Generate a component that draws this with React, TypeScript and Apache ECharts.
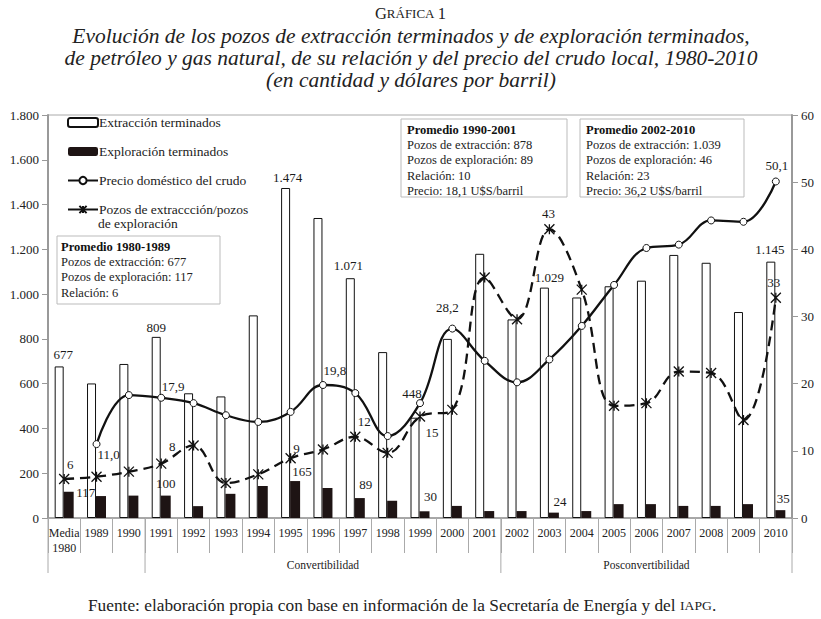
import React, { useEffect, useRef } from "react";
import * as echarts from "echarts";

const categories = ["Media\n1980", "1989", "1990", "1991", "1992", "1993", "1994", "1995", "1996", "1997", "1998", "1999", "2000", "2001", "2002", "2003", "2004", "2005", "2006", "2007", "2008", "2009", "2010"];
const extraccion = [677, 601, 688, 809, 557, 543, 905, 1474, 1340, 1071, 741, 448, 800, 1180, 887, 1029, 985, 1035, 1060, 1175, 1140, 920, 1145];
const exploracion = [117, 98, 100, 100, 53, 108, 143, 165, 134, 89, 77, 30, 54, 31, 31, 24, 31, 62, 62, 54, 54, 62, 35];
const precio = [null, 11.0, 18.3, 17.9, 17.1, 15.3, 14.3, 15.8, 19.8, 18.6, 12.2, 17.1, 28.2, 23.4, 20.2, 23.6, 28.6, 34.7, 40.2, 40.7, 44.3, 44.1, 50.1];
const relacion = [5.8, 6.15, 6.9, 8.1, 10.8, 5.2, 6.5, 8.9, 10.2, 12.1, 9.7, 15.1, 16.1, 35.8, 29.6, 43, 34, 16.7, 17.1, 21.8, 21.6, 14.6, 32.8];
const leftTicks = { min: 0, max: 1800, interval: 200 };
const rightTicks = { min: 0, max: 60, interval: 10 };
const groups = [
  { name: "", from: 0, to: 3 },
  { name: "Convertibilidad", from: 3, to: 14 },
  { name: "Posconvertibilidad", from: 14, to: 23 },
];
const boxes = [
  { title: "Promedio 1980-1989", lines: ["Pozos de extracción: 677", "Pozos de exploración: 117", "Relación: 6"] },
  { title: "Promedio 1990-2001", lines: ["Pozos de extracción: 878", "Pozos de exploración: 89", "Relación: 10", "Precio: 18,1 U$S/barril"] },
  { title: "Promedio 2002-2010", lines: ["Pozos de extracción: 1.039", "Pozos de exploración: 46", "Relación: 23", "Precio: 36,2 U$S/barril"] },
];

// label placement (index -> offset)
const extLabelOff: Record<number, number[]> = { 0: [4, -2], 3: [0, 0], 7: [2, -1], 9: [-2, -3], 11: [-3, -15], 15: [5, -1], 22: [-1, -3] };
const expLabelOff: Record<number, number[]> = { 0: [17, 10], 3: [0, -3], 7: [7, 0], 9: [6, -4], 11: [6, -5], 15: [6, -2], 22: [3, -2] };
const priceLabelOff: Record<number, number[]> = { 1: [12, 10], 3: [12, -11], 8: [12, -15], 12: [-5, -21], 22: [1, -16] };
const ratioLabelOff: Record<number, number[]> = { 0: [6, -15], 3: [11, -17], 7: [6, -10], 9: [9, -15], 11: [12, 16], 15: [-1, -16], 22: [-2, -15] };

const FONT = "Liberation Serif";
const fmtInt = (v: number) => String(Math.round(v)).replace(/\B(?=(\d{3})+(?!\d))/g, ".");
const fmtDec = (v: number) => v.toFixed(1).replace(".", ",");

const GRID = { left: 48, right: 29, top: 115, bottom: 101 };
const STAR = "path://M0,0L10,10M10,0L0,10M5,0L5,10";

export default function App() {
  const ref = useRef<HTMLDivElement>(null);
  useEffect(() => {
    document.body.style.margin = "0";
    const chart = echarts.init(ref.current!, null, { renderer: "svg" });
    const txt = { fontFamily: FONT, fontSize: 13, color: "#1a1a1a", textBorderWidth: 0, textBorderColor: "transparent" };
    const mkLabel = (text: string, position: string, offset: number[], distance = 3) => ({
      show: true,
      position,
      distance,
      offset,
      formatter: text,
      ...txt,
    });

    const extData = extraccion.map((v, i) => (extLabelOff[i] ? { value: v, label: mkLabel(fmtInt(v), "top", extLabelOff[i]) } : v));
    const expData = exploracion.map((v, i) => (expLabelOff[i] ? { value: v, label: mkLabel(fmtInt(v), "top", expLabelOff[i]) } : v));
    const priceData = precio.map((v, i) =>
      v != null && priceLabelOff[i] ? { value: v, label: mkLabel(fmtDec(v), "inside", priceLabelOff[i]) } : v
    );
    const ratioData = relacion.map((v, i) =>
      ratioLabelOff[i] ? { value: v, label: mkLabel(String(Math.round(v)), "inside", ratioLabelOff[i]) } : v
    );

    const ratioName = "Pozos de extraccción/pozos\nde exploración";

    chart.setOption({
      animation: false,
      backgroundColor: "#fff",
      textStyle: { fontFamily: FONT },
      grid: { ...GRID, show: true, borderColor: "#aaa", borderWidth: 1 },
      legend: {
        orient: "vertical",
        left: 62,
        top: 110,
        itemWidth: 30,
        itemHeight: 9,
        itemGap: 14,
        formatter: (n: string) => n.split("\n")[0],
        textStyle: { fontFamily: FONT, fontSize: 13.5, color: "#222", lineHeight: 15, padding: [0, 0, 0, -4] },
        data: [
          { name: "Extracción terminados" },
          { name: "Exploración terminados" },
          { name: "Precio doméstico del crudo" },
          { name: ratioName, lineStyle: { type: "solid" } },
        ],
      },
      xAxis: {
        type: "category",
        data: categories,
        axisLine: { lineStyle: { color: "#999", width: 1.5 } },
        axisTick: { show: true, interval: 0, length: 35, lineStyle: { color: "#aaa" } },
        axisLabel: { interval: 0, margin: 7, fontFamily: FONT, fontSize: 12, color: "#222", lineHeight: 15, verticalAlign: "top" },
      },
      yAxis: [
        {
          type: "value",
          ...leftTicks,
          axisLine: { show: true, lineStyle: { color: "#999", width: 2 } },
          axisTick: { show: true, length: 6, lineStyle: { color: "#999" } },
          splitLine: { show: false },
          axisLabel: { margin: 9, fontFamily: FONT, fontSize: 13, color: "#222", formatter: (v: number) => fmtInt(v) },
        },
        {
          type: "value",
          ...rightTicks,
          position: "right",
          axisLine: { show: true, lineStyle: { color: "#999", width: 2 } },
          axisTick: { show: true, length: 6, lineStyle: { color: "#999" } },
          splitLine: { show: false },
          axisLabel: { margin: 9, fontFamily: FONT, fontSize: 13, color: "#222" },
        },
      ],
      series: [
        {
          name: "Extracción terminados",
          type: "bar",
          data: extData,
          barWidth: 9,
          barGap: "0%",
          itemStyle: { color: "#fff", borderColor: "#111", borderWidth: 1 },
        },
        {
          name: "Exploración terminados",
          type: "bar",
          data: expData,
          barWidth: 10,
          barGap: "0%",
          itemStyle: { color: "#1e1414" },
        },
        {
          name: "Precio doméstico del crudo",
          type: "line",
          yAxisIndex: 1,
          data: priceData,
          smooth: 0.4,
          symbol: "circle",
          symbolSize: 7,
          showAllSymbol: true,
          lineStyle: { color: "#111", width: 2.3 },
          itemStyle: { color: "#fff", borderColor: "#111", borderWidth: 1 },
          z: 4,
        },
        {
          name: ratioName,
          type: "line",
          yAxisIndex: 1,
          data: ratioData,
          smooth: 0.4,
          symbol: STAR,
          symbolSize: 10,
          showAllSymbol: true,
          lineStyle: { color: "#111", width: 2.3, type: [10, 6] },
          itemStyle: { color: "none", borderColor: "#111", borderWidth: 1.3 },
          z: 3,
        },
      ],
    });

    // decorations: titles, boxes, group separators
    const c0 = chart.convertToPixel({ xAxisIndex: 0 }, 0) as number;
    const c1 = chart.convertToPixel({ xAxisIndex: 0 }, 1) as number;
    const step = c1 - c0;
    const edge = (i: number) => c0 - step / 2 + i * step;
    const axisY = 619 - GRID.bottom;

    const graphics: any[] = [];
    graphics.push({
      type: "text", x: 410.5, y: 13,
      style: { text: "{a|G}{b|RÁFICA} {a|1}", rich: { a: { fontSize: 16.5, fontFamily: FONT, fill: "#222" }, b: { fontSize: 13, fontFamily: FONT, fill: "#222" } }, align: "center", verticalAlign: "middle" },
    });
    const titleLines = [
      "Evolución de los pozos de extracción terminados y de exploración terminados,",
      "de petróleo y gas natural, de su relación y del precio del crudo local, 1980-2010",
      "(en cantidad y dólares por barril)",
    ];
    titleLines.forEach((t, k) => {
      graphics.push({
        type: "text", x: 411, y: 36 + k * 22, scaleX: 1.075,
        style: { text: t, font: `italic 20px "${FONT}"`, fill: "#222", align: "center", verticalAlign: "middle" },
      });
    });
    graphics.push({
      type: "text", x: 402, y: 606, scaleX: 1.05,
      style: {
        text: "Fuente: elaboración propia con base en información de la Secretaría de Energía y del {s|IAPG}.",
        rich: { s: { fontSize: 13, fontFamily: FONT, fill: "#222" } },
        font: `16.5px "${FONT}"`, fill: "#222", align: "center", verticalAlign: "middle",
      },
    });
    graphics.push({
      type: "text", x: 98, y: 223,
      style: { text: "de exploración", font: `13.5px "${FONT}"`, fill: "#222", verticalAlign: "middle" },
    });

    const boxPos = [
      { x: 57, y: 236, w: 163, h: 68, pad: 4 },
      { x: 401, y: 119, w: 166, h: 78, pad: 6 },
      { x: 580, y: 119, w: 164, h: 78, pad: 6 },
    ];
    boxes.forEach((b, k) => {
      const p = boxPos[k];
      graphics.push({ type: "rect", shape: { x: p.x, y: p.y, width: p.w, height: p.h }, style: { fill: "#fff", stroke: "#bbb", lineWidth: 1 }, z: 10 });
      graphics.push({
        type: "text", x: p.x + p.pad, y: p.y + 11, z: 11,
        style: { text: b.title, font: `bold 12.5px "${FONT}"`, fill: "#111", verticalAlign: "middle" },
      });
      b.lines.forEach((ln, j) => {
        graphics.push({
          type: "text", x: p.x + p.pad, y: p.y + 11 + (j + 1) * 15.2, z: 11,
          style: { text: ln, font: `12.5px "${FONT}"`, fill: "#222", verticalAlign: "middle" },
        });
      });
    });

    const sepIdx = new Set<number>();
    groups.forEach((g) => { sepIdx.add(g.from); sepIdx.add(g.to); });
    sepIdx.forEach((i) => {
      graphics.push({ type: "line", shape: { x1: edge(i), y1: axisY, x2: edge(i), y2: axisY + 55 }, style: { stroke: "#aaa", lineWidth: 1 } });
    });
    groups.forEach((g) => {
      if (!g.name) return;
      graphics.push({
        type: "text", x: (edge(g.from) + edge(g.to)) / 2, y: axisY + 47,
        style: { text: g.name, font: `11.5px "${FONT}"`, fill: "#222", align: "center", verticalAlign: "middle" },
      });
    });

    chart.setOption({ graphic: graphics });
    return () => chart.dispose();
  }, []);
  return <div ref={ref} style={{ width: 821, height: 619 }} />;
}
